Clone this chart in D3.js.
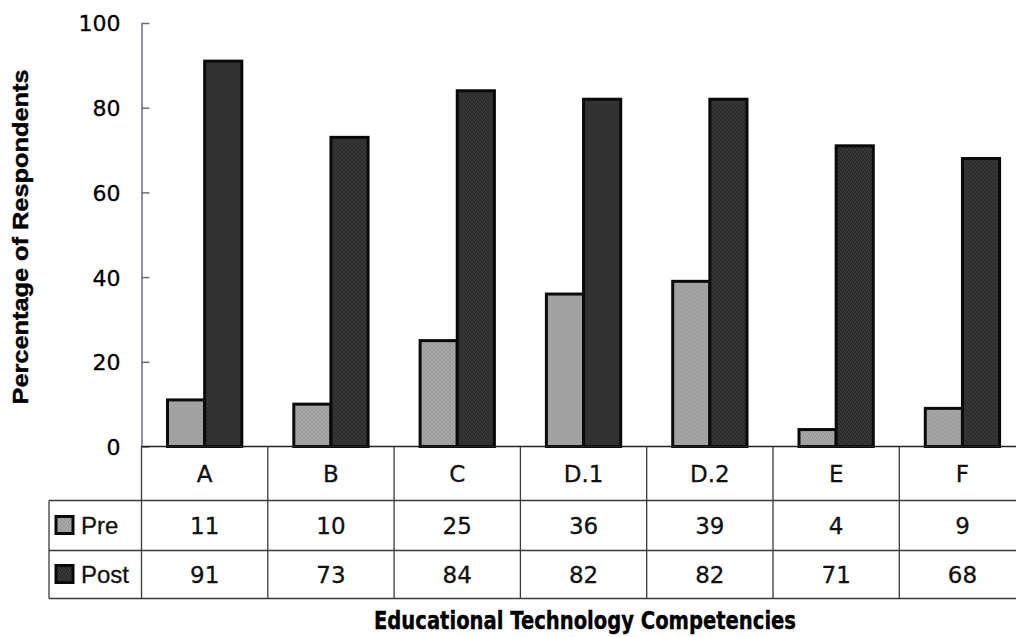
<!DOCTYPE html>
<html>
<head>
<meta charset="utf-8">
<script src="https://cdn.jsdelivr.net/npm/d3@7"></script>
<style>
  html, body { margin: 0; padding: 0; background: #fff; }
  svg { display: block; }
</style>
</head>
<body>
<svg id="chart" width="1016" height="637"></svg>
<script>
// Competency categories and survey percentages
const categories = ["A", "B", "C", "D.1", "D.2", "E", "F"];
const seriesNames = ["Pre", "Post"];
const preValues = [11, 10, 25, 36, 39, 4, 9];
const postValues = [91, 73, 84, 82, 82, 71, 68];
const yTicks = [0, 20, 40, 60, 80, 100];

const seriesValues = { Pre: preValues, Post: postValues };

const svg = d3.select("#chart");
const W = 1016, H = 637;

// Plot geometry
const plotLeft = 141.5, colWidth = 126.3;
const plotRight = plotLeft + colWidth * categories.length;
const yTop = 23, yBottom = 446.5;
const rowBounds = [446.5, 500.5, 550.5, 598.5]; // category row, Pre row, Post row
const tableLeft = 49;

const x = d3.scaleBand().domain(categories).range([plotLeft, plotRight]).padding(0);
const x1 = d3.scaleBand().domain(seriesNames).range([26, colWidth - 26]).padding(0);
const y = d3.scaleLinear().domain([0, 100]).range([yBottom, yTop]);

// Stippled fills for the two series
const defs = svg.append("defs");
function stipple(id, base, dot) {
  const p = defs.append("pattern").attr("id", id)
    .attr("patternUnits", "userSpaceOnUse").attr("width", 4).attr("height", 4);
  p.append("rect").attr("width", 4).attr("height", 4).attr("fill", base);
  [[0, 0], [2, 1], [1, 2], [3, 3]].forEach(([px, py]) =>
    p.append("rect").attr("x", px).attr("y", py).attr("width", 1).attr("height", 1).attr("fill", dot));
}
stipple("fillPre", "#9c9c9c", "#b2b2b2");
stipple("fillPost", "#2c2c2c", "#444");
const fills = { Pre: "url(#fillPre)", Post: "url(#fillPost)" };

const textFont = "'DejaVu Sans', Verdana, sans-serif";

// Y axis
const yAxis = d3.axisLeft(y).tickValues(yTicks).tickSize(0).tickPadding(21).tickFormat(d3.format("d"));
const gy = svg.append("g").attr("transform", `translate(${plotLeft},0)`).call(yAxis);
gy.select(".domain").attr("stroke", "#6f6a78").attr("stroke-width", 1.5);
gy.selectAll(".tick text")
  .attr("font-family", textFont)
  .attr("font-size", 22).attr("fill", "#000")
  .attr("stroke", "#000").attr("stroke-width", 0.3)
  .attr("dy", "0.36em");
gy.selectAll(".tick").append("line")
  .attr("x1", 0).attr("x2", 8).attr("stroke", "#6f6a78").attr("stroke-width", 1.5);

// Bars
const groups = svg.append("g").selectAll("g")
  .data(categories).join("g")
  .attr("transform", d => `translate(${x(d)},0)`);

groups.selectAll("rect")
  .data((c, i) => seriesNames.map(s => ({ s, v: seriesValues[s][i] })))
  .join("rect")
  .attr("x", d => x1(d.s))
  .attr("y", d => y(d.v))
  .attr("width", x1.bandwidth())
  .attr("height", d => yBottom - y(d.v))
  .attr("fill", d => fills[d.s])
  .attr("stroke", "#0a0a0a")
  .attr("stroke-width", 3);

// Data table beneath the plot
const grid = svg.append("g").attr("stroke", "#3a3a3a").attr("stroke-width", 1.3).attr("fill", "none");
grid.append("line").attr("x1", plotLeft).attr("x2", W).attr("y1", rowBounds[0]).attr("y2", rowBounds[0]).attr("stroke", "#222").attr("stroke-width", 1.6);
[rowBounds[1], rowBounds[2], rowBounds[3]].forEach(yy => {
  grid.append("line").attr("x1", tableLeft).attr("x2", W).attr("y1", yy).attr("y2", yy);
});
grid.append("line").attr("x1", tableLeft).attr("x2", tableLeft).attr("y1", rowBounds[1]).attr("y2", rowBounds[3]);
d3.range(categories.length + 1).forEach(i => {
  const xx = plotLeft + i * colWidth;
  grid.append("line").attr("x1", xx).attr("x2", xx).attr("y1", rowBounds[0]).attr("y2", rowBounds[3]);
});

const cells = svg.append("g")
  .attr("font-family", textFont).attr("font-size", 23).attr("fill", "#111")
  .attr("stroke", "#111").attr("stroke-width", 0.3)
  .attr("text-anchor", "middle");

cells.selectAll("text.cat").data(categories).join("text")
  .attr("class", "cat")
  .attr("x", d => x(d) + colWidth / 2)
  .attr("y", (rowBounds[0] + rowBounds[1]) / 2)
  .attr("dy", "0.36em")
  .text(d => d);

seriesNames.forEach((s, r) => {
  cells.selectAll(`text.v${s}`).data(seriesValues[s]).join("text")
    .attr("class", `v${s}`)
    .attr("x", (d, i) => x(categories[i]) + colWidth / 2)
    .attr("y", (rowBounds[r + 1] + rowBounds[r + 2]) / 2)
    .attr("dy", "0.36em")
    .text(d => d);
});

// Legend keys in the table's row headers
seriesNames.forEach((s, r) => {
  const cy = (rowBounds[r + 1] + rowBounds[r + 2]) / 2;
  svg.append("rect")
    .attr("x", 56).attr("y", cy - 9).attr("width", 17).attr("height", 17)
    .attr("fill", fills[s]).attr("stroke", "#0a0a0a").attr("stroke-width", 3);
  svg.append("text")
    .attr("x", 81).attr("y", cy).attr("dy", "0.36em")
    .attr("font-family", "'Liberation Sans', Arial, sans-serif")
    .attr("font-size", 24).attr("fill", "#111")
    .attr("stroke", "#111").attr("stroke-width", 0.3)
    .text(s);
});

// Axis titles
svg.append("text")
  .attr("transform", `translate(28,237) rotate(-90)`)
  .attr("text-anchor", "middle")
  .attr("font-family", "'Liberation Sans', Arial, sans-serif")
  .attr("font-weight", "bold").attr("font-size", 22)
  .attr("stroke", "#000").attr("stroke-width", 0.4)
  .attr("textLength", 335).attr("lengthAdjust", "spacingAndGlyphs")
  .text("Percentage of Respondents");

svg.append("text")
  .attr("x", 585).attr("y", 629)
  .attr("text-anchor", "middle")
  .attr("font-family", textFont)
  .attr("font-weight", "bold").attr("font-size", 24)
  .attr("stroke", "#000").attr("stroke-width", 0.4)
  .attr("textLength", 422).attr("lengthAdjust", "spacingAndGlyphs")
  .text("Educational Technology Competencies");
</script>
</body>
</html>
